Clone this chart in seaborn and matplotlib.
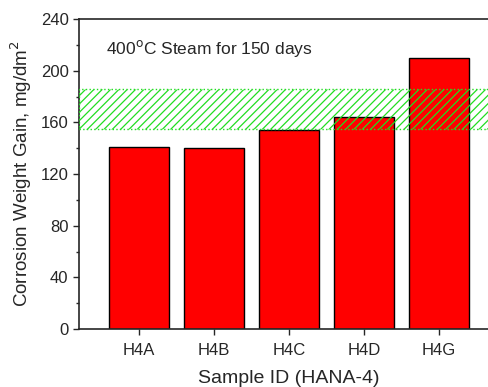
import pandas as pd
import seaborn as sns
import matplotlib
matplotlib.use("Agg")
import matplotlib.pyplot as plt
from matplotlib.ticker import MultipleLocator

samples = ["H4A", "H4B", "H4C", "H4D", "H4G"]
weight_gain = [141, 140, 154, 164, 210]
band_low = 155
band_high = 186

df = pd.DataFrame({"sample": samples, "gain": weight_gain})

sns.set_style("ticks")
plt.rcParams['font.family'] = ['Liberation Sans', 'DejaVu Sans']
plt.rcParams['hatch.linewidth'] = 0.9

fig = plt.figure(figsize=(4.89, 3.87), dpi=100)
ax = fig.add_axes([79/489, 1 - 329/387, 420/489, 310/387])

sns.barplot(x="sample", y="gain", data=df, color="#ff0000", saturation=1,
            edgecolor="black", linewidth=1.0, width=0.8, ax=ax, zorder=2)

# hatched range band drawn over the bars
ax.axhspan(band_low, band_high, fill=False, hatch="////", edgecolor="#22dd22",
           linestyle=":", linewidth=1.0, zorder=3)

ax.set_xlim(-0.8, 4.8)
ax.set_ylim(0, 240)
ax.yaxis.set_major_locator(MultipleLocator(40))
ax.yaxis.set_minor_locator(MultipleLocator(20))
ax.tick_params(axis="both", which="major", direction="out", length=4, labelsize=12, width=1)
ax.tick_params(axis="x", which="major", pad=6)
ax.tick_params(axis="y", which="minor", direction="out", length=2, width=1)
for s in ax.spines.values():
    s.set_linewidth(1.2)

ax.set_xlabel("Sample ID (HANA-4)", fontsize=14, labelpad=9)
ax.set_ylabel("Corrosion Weight Gain, mg/dm$^2$", fontsize=13.5, labelpad=5)
ax.text(0.065, 0.905, "400$^{\\mathrm{o}}$C Steam for 150 days", transform=ax.transAxes,
        fontsize=12.5, va="center", ha="left")

fig.savefig("out.png", dpi=100)
